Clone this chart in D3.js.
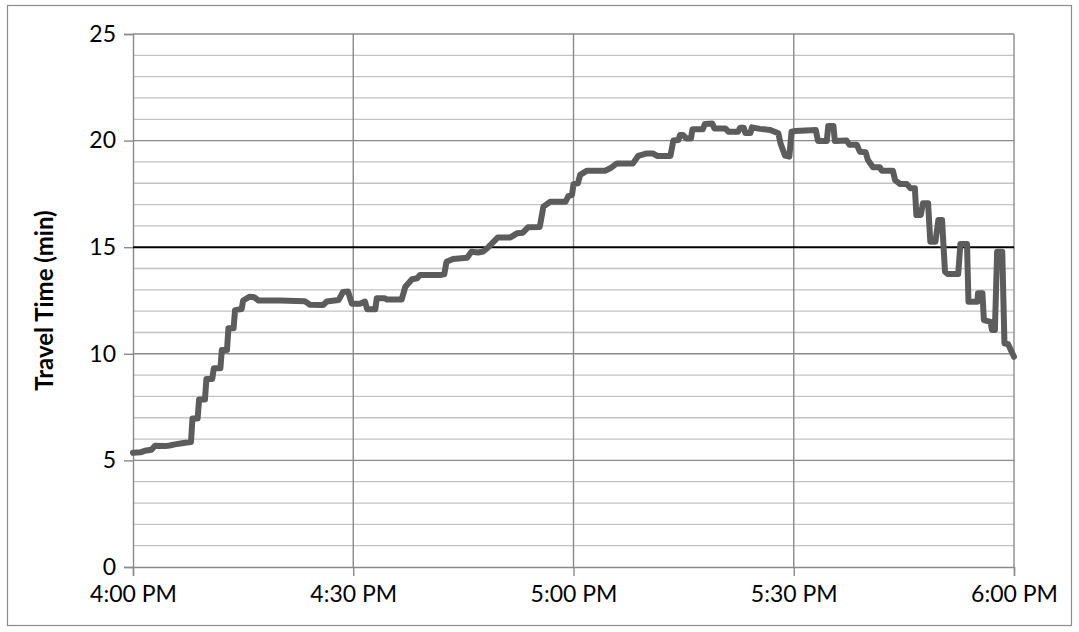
<!DOCTYPE html>
<html>
<head>
<meta charset="utf-8">
<script src="https://cdn.jsdelivr.net/npm/d3@7"></script>
<style>
  html, body { margin: 0; padding: 0; background: #fff; }
  svg { display: block; }
  text { font-family: Lato, "Open Sans", "Liberation Sans", sans-serif; fill: #000; }
</style>
</head>
<body>
<svg id="chart" width="1079" height="632"></svg>
<script>
// ---- data (minutes after 4:00 PM, travel time in minutes) ----
const minutesAfter4pm = [
  0, 1.0, 1.6, 2.5, 3.0, 4.4, 5.0, 5.7, 7.1, 7.9, 8.1, 8.8, 9.0, 9.8, 10.0, 10.8, 11.0, 11.9, 12.1, 12.8,
  13.0, 13.7, 13.9, 14.8, 15.0, 15.9, 16.5, 17.1, 20.0, 23.4, 24.1, 25.9, 26.4, 28.0, 28.6, 29.3, 29.8, 30.9, 31.6, 31.9,
  33.0, 33.2, 34.3, 34.6, 36.6, 37.1, 38.0, 38.7, 39.1, 41.8, 42.4, 42.7, 43.6, 45.5, 46.1, 47.0, 47.7, 48.4, 49.0, 49.7,
  51.4, 52.3, 53.1, 53.8, 55.4, 55.9, 56.8, 58.9, 59.3, 59.8, 60.0, 60.6, 60.9, 61.85, 64.3, 65.0, 65.9, 68.1, 68.8, 70.0,
  70.8, 71.4, 73.2, 73.6, 74.3, 74.5, 74.9, 75.4, 76.0, 76.2, 77.6, 77.9, 78.9, 79.2, 80.7, 81.1, 82.4, 82.7, 83.2, 83.4,
  84.1, 84.3, 85.4, 86.8, 87.9, 88.2, 88.8, 89.4, 89.7, 90.2, 93.0, 93.3, 94.5, 94.7, 95.4, 95.6, 97.2, 97.6, 98.6, 99.0,
  99.8, 100.1, 100.8, 101.7, 102.0, 103.5, 103.8, 104.5, 105.4, 105.9, 106.5, 106.7, 107.3, 107.6, 108.3, 108.6, 109.3, 109.7, 110.2, 110.6,
  111.0, 112.4, 112.7, 113.6, 113.8, 115.0, 115.1, 115.7, 115.9, 116.8, 117.0, 117.4, 117.7, 118.4, 118.7, 119.2, 120.0
];
const travelTime = [
  5.36, 5.38, 5.45, 5.5, 5.69, 5.67, 5.7, 5.75, 5.83, 5.86, 6.97, 6.97, 7.86, 7.86, 8.82, 8.82, 9.32, 9.32, 10.18, 10.18,
  11.2, 11.2, 12.05, 12.1, 12.5, 12.68, 12.65, 12.5, 12.5, 12.47, 12.3, 12.29, 12.45, 12.52, 12.9, 12.92, 12.35, 12.35, 12.45, 12.09,
  12.09, 12.6, 12.6, 12.55, 12.55, 13.15, 13.5, 13.54, 13.7, 13.7, 13.73, 14.32, 14.45, 14.5, 14.79, 14.75, 14.8, 15.0, 15.21, 15.46,
  15.46, 15.65, 15.68, 15.93, 15.95, 16.9, 17.13, 17.13, 17.4, 17.45, 17.96, 18.0, 18.39, 18.59, 18.59, 18.7, 18.93, 18.93, 19.28, 19.4,
  19.4, 19.28, 19.28, 20.0, 20.03, 20.26, 20.26, 20.1, 20.1, 20.53, 20.53, 20.78, 20.8, 20.57, 20.57, 20.42, 20.42, 20.6, 20.6, 20.36,
  20.36, 20.62, 20.55, 20.5, 20.34, 19.87, 19.3, 19.25, 20.42, 20.45, 20.5, 19.98, 19.98, 20.69, 20.69, 19.98, 20.0, 19.8, 19.8, 19.48,
  19.45, 19.09, 18.75, 18.75, 18.59, 18.59, 18.15, 17.96, 17.96, 17.76, 17.76, 16.51, 16.51, 17.06, 17.06, 15.26, 15.26, 16.28, 16.28, 13.85,
  13.74, 13.74, 15.15, 15.15, 12.44, 12.44, 12.84, 12.84, 11.58, 11.5, 11.12, 11.12, 14.79, 14.79, 10.49, 10.45, 9.86
];
const yMajorTicks = [0, 5, 10, 15, 20, 25];
const yMinorTicks = d3.range(0, 26, 1);
const xTickMinutes = [0, 30, 60, 90, 120];
const xTickLabels = ["4:00 PM", "4:30 PM", "5:00 PM", "5:30 PM", "6:00 PM"];
const thresholdValue = 15;
const yAxisTitle = "Travel Time (min)";

// ---- layout ----
const svg = d3.select("#chart");
const plot = { left: 133, right: 1014, top: 34, bottom: 567 };

const base = new Date(2020, 0, 1, 16, 0, 0);
const toDate = m => new Date(base.getTime() + m * 60000);

const x = d3.scaleTime()
  .domain([toDate(0), toDate(120)])
  .range([plot.left, plot.right]);
const y = d3.scaleLinear()
  .domain([0, 25])
  .range([plot.bottom, plot.top]);

// outer border
svg.append("rect")
  .attr("x", 7.5).attr("y", 5.5)
  .attr("width", 1064).attr("height", 620)
  .attr("fill", "#fff")
  .attr("stroke", "#8c8c8c").attr("stroke-width", 1.2);

const g = svg.append("g");

// minor horizontal gridlines
g.append("g").selectAll("line")
  .data(yMinorTicks.filter(v => v % 5 !== 0))
  .join("line")
  .attr("x1", plot.left).attr("x2", plot.right)
  .attr("y1", d => y(d)).attr("y2", d => y(d))
  .attr("stroke", "#c3c3c3").attr("stroke-width", 1.3);

// major horizontal gridlines
g.append("g").selectAll("line")
  .data(yMajorTicks.filter(v => v !== 0 && v !== thresholdValue))
  .join("line")
  .attr("x1", plot.left).attr("x2", plot.right)
  .attr("y1", d => y(d)).attr("y2", d => y(d))
  .attr("stroke", "#8a8a8a").attr("stroke-width", 1.4);

// vertical gridlines
g.append("g").selectAll("line")
  .data(xTickMinutes.filter(m => m !== 0))
  .join("line")
  .attr("x1", d => x(toDate(d))).attr("x2", d => x(toDate(d)))
  .attr("y1", plot.top).attr("y2", plot.bottom)
  .attr("stroke", "#8a8a8a").attr("stroke-width", 1.4);

// y axis
const yAxis = d3.axisLeft(y)
  .tickValues(yMajorTicks)
  .tickSize(9)
  .tickPadding(8)
  .tickFormat(d3.format("d"));
const yAx = svg.append("g")
  .attr("transform", `translate(${plot.left},0)`)
  .call(yAxis);
yAx.select(".domain").attr("stroke", "#8a8a8a").attr("stroke-width", 1.4);
yAx.selectAll(".tick line").attr("stroke", "#8a8a8a").attr("stroke-width", 1.4);
yAx.selectAll(".tick text")
  .attr("font-family", "Lato, 'Open Sans', sans-serif")
  .attr("font-size", 23).attr("fill", "#000");

// x axis
const xAxis = d3.axisBottom(x)
  .tickValues(xTickMinutes.map(toDate))
  .tickSize(9)
  .tickPadding(10)
  .tickFormat((d, i) => xTickLabels[i]);
const xAx = svg.append("g")
  .attr("transform", `translate(0,${plot.bottom})`)
  .call(xAxis);
xAx.select(".domain").attr("stroke", "#8a8a8a").attr("stroke-width", 1.4);
xAx.selectAll(".tick line").attr("stroke", "#8a8a8a").attr("stroke-width", 1.4);
xAx.selectAll(".tick text")
  .attr("font-family", "Lato, 'Open Sans', sans-serif")
  .attr("font-size", 23).attr("fill", "#000");

// threshold line at 15
svg.append("line")
  .attr("x1", plot.left).attr("x2", plot.right)
  .attr("y1", y(thresholdValue)).attr("y2", y(thresholdValue))
  .attr("stroke", "#000").attr("stroke-width", 2);

// data line
const pts = minutesAfter4pm.map((m, i) => ({ t: toDate(m), v: travelTime[i] }));
const line = d3.line()
  .x(d => x(d.t))
  .y(d => y(d.v));
svg.append("path")
  .datum(pts)
  .attr("d", line)
  .attr("fill", "none")
  .attr("stroke", "#5c5c5c")
  .attr("stroke-width", 6)
  .attr("stroke-linejoin", "round")
  .attr("stroke-linecap", "round");

// y axis title
svg.append("text")
  .attr("transform", `translate(53,${(plot.top + plot.bottom) / 2}) rotate(-90)`)
  .attr("text-anchor", "middle")
  .attr("font-family", "Lato, 'Open Sans', sans-serif")
  .attr("font-weight", "bold")
  .attr("font-size", 24)
  .text(yAxisTitle);
</script>
</body>
</html>
